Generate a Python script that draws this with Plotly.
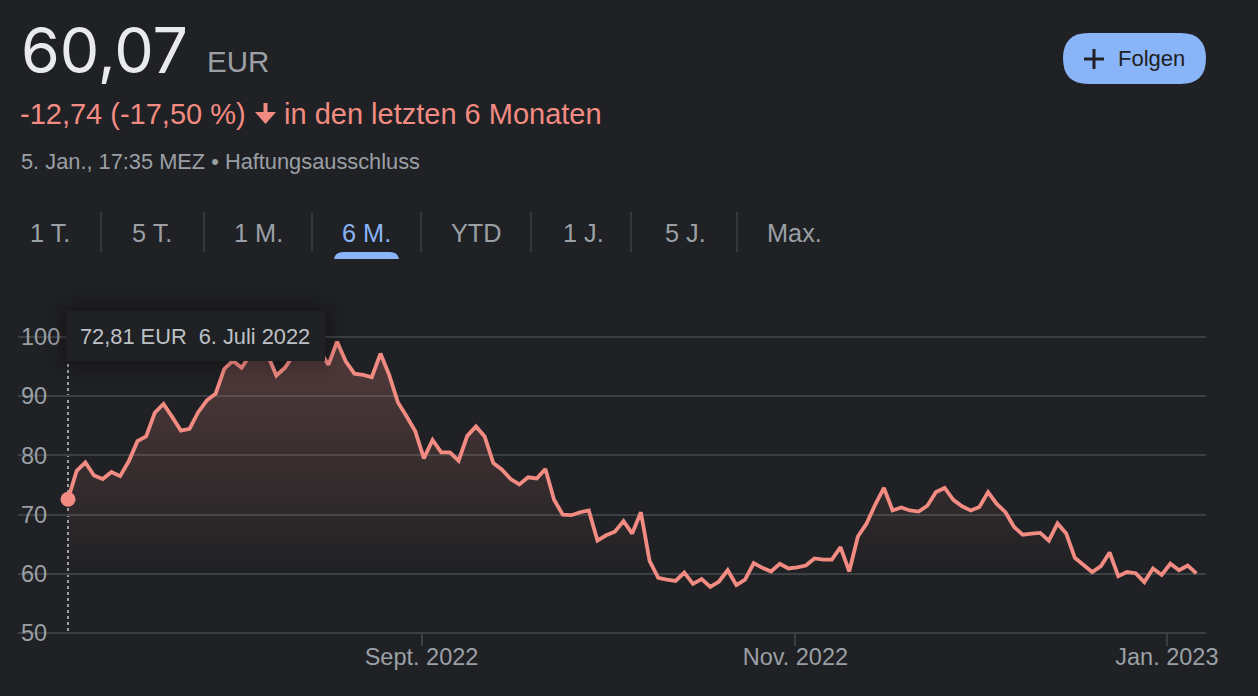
import plotly.graph_objects as go

W, H = 1258, 696
BG = "#202124"
RED = "#f28b82"
GREY = "#9aa0a6"
GRID = "#3c4043"
BLUE = "#8ab4f8"

# Closing prices, one per trading session from 6 July 2022 to 5 January 2023
prices = [
    72.6, 77.4, 78.8, 76.6, 76.0, 77.2, 76.5, 79.0, 82.4, 83.2,
    87.2, 88.7, 86.5, 84.2, 84.5, 87.3, 89.3, 90.4, 94.6, 96.0,
    94.8, 97.0, 99.0, 97.0, 93.5, 94.8, 97.0, 97.5, 98.5, 97.7,
    95.3, 99.2, 95.9, 93.8, 93.6, 93.2, 97.2, 93.6, 89.0, 86.6,
    84.1, 79.5, 82.6, 80.5, 80.5, 79.1, 83.3, 84.9, 83.2, 78.7,
    77.6, 76.0, 75.1, 76.3, 76.1, 77.7, 72.5, 70.0, 69.9, 70.4,
    70.7, 65.6, 66.5, 67.1, 68.9, 66.8, 70.4, 62.2, 59.3, 59.0,
    58.8, 60.2, 58.3, 59.1, 57.8, 58.7, 60.6, 58.1, 59.0, 61.8,
    61.0, 60.4, 61.7, 60.9, 61.1, 61.4, 62.6, 62.4, 62.4, 64.5,
    60.4, 66.3, 68.5, 71.7, 74.5, 70.7, 71.2, 70.7, 70.5, 71.5,
    73.8, 74.5, 72.5, 71.4, 70.7, 71.3, 73.8, 71.8, 70.4, 67.9,
    66.6, 66.8, 66.9, 65.6, 68.5, 66.8, 62.7, 61.5, 60.3, 61.3,
    63.6, 59.6, 60.3, 60.1, 58.6, 60.9, 59.8, 61.7, 60.6, 61.4,
    60.07,
]
sessions = list(range(len(prices)))

x_tick_positions = [40.73, 83.8, 126.6]
x_tick_labels = ["Sept. 2022", "Nov. 2022", "Jan. 2023"]
y_ticks = [50, 60, 70, 80, 90, 100]

tab_labels = ["1 T.", "5 T.", "1 M.", "6 M.", "YTD", "1 J.", "5 J.", "Max."]
tab_centres = [50, 152, 258, 366, 476, 583, 685, 794]
tab_separators = [101, 204, 312, 421, 531, 631, 737]


def px(x):
    return x / W


def py(y):
    return 1 - y / H


def text(s, x, y, size, color, anchor="left", font="Liberation Sans"):
    return dict(
        text=s, x=px(x), y=py(y), xref="paper", yref="paper", showarrow=False,
        xanchor=anchor, yanchor="middle", align=anchor,
        font=dict(size=size, color=color, family=font),
        borderpad=0, borderwidth=0,
    )


def rrect(x0, y0, x1, y1, r):
    p = lambda a, b: f"{px(a):.5f},{py(b):.5f}"
    return (
        f"M{p(x0 + r, y0)} L{p(x1 - r, y0)} Q{p(x1, y0)} {p(x1, y0 + r)} "
        f"L{p(x1, y1 - r)} Q{p(x1, y1)} {p(x1 - r, y1)} L{p(x0 + r, y1)} "
        f"Q{p(x0, y1)} {p(x0, y1 - r)} L{p(x0, y0 + r)} Q{p(x0, y0)} {p(x0 + r, y0)} Z"
    )


def path(d, fill, layer="above"):
    return dict(type="path", xref="paper", yref="paper", path=d, fillcolor=fill,
                line=dict(width=0), layer=layer)


def seg(x0, y0, x1, y1, color, width):
    return dict(type="line", xref="paper", yref="paper", x0=px(x0), y0=py(y0),
                x1=px(x1), y1=py(y1), line=dict(color=color, width=width), layer="above")


def rect(x0, y0, x1, y1, fill, layer):
    return dict(type="rect", xref="paper", yref="paper", x0=px(x0), y0=py(y0),
                x1=px(x1), y1=py(y1), fillcolor=fill, line=dict(width=0), layer=layer)


fig = go.Figure()
fig.add_trace(go.Scatter(
    x=sessions, y=prices, mode="lines",
    line=dict(color=RED, width=3.8, simplify=False),
    fill="tozeroy",
    fillgradient=dict(
        type="vertical", start=60, stop=100,
        colorscale=[[0, "rgba(242,139,130,0)"], [1, "rgba(242,139,130,0.25)"]],
    ),
    hoverinfo="skip", showlegend=False,
))
fig.add_trace(go.Scatter(
    x=sessions[:1], y=prices[:1], mode="markers",
    marker=dict(color=RED, size=15, line=dict(width=0)),
    hoverinfo="skip", showlegend=False,
))

# Axis mapping: session i sits at pixel 68 + 8.68 i, price 100 at pixel 337 and 50 at 633
L, R, T, B = 18, 1206, 290, 655
fig.update_xaxes(
    domain=[px(L), px(R)], range=[(L - 68) / 8.68, (R - 68) / 8.68],
    anchor="free", position=py(633),
    tickmode="array", tickvals=x_tick_positions, ticktext=x_tick_labels,
    ticks="outside", ticklen=12, tickwidth=1.5, tickcolor=GRID, ticklabelstandoff=-9,
    tickfont=dict(size=23.5, color=GREY, family="Liberation Sans"),
    showgrid=False, zeroline=False, showline=False, fixedrange=True,
    automargin=False,
)
fig.update_yaxes(
    domain=[py(B), py(T)], range=[50 - (B - 633) / 5.92, 50 + (633 - T) / 5.92],
    tickmode="array", tickvals=y_ticks, ticktext=[str(v) for v in y_ticks],
    ticklabelposition="inside", ticks="",
    tickfont=dict(size=23.5, color=GREY, family="Liberation Sans"),
    showgrid=True, gridcolor=GRID, gridwidth=2, zeroline=False, showline=False,
    fixedrange=True, automargin=False,
)

shapes = [
    # clear the grid behind the axis labels
    rect(L - 2, 325, 48, 655, BG, "between"),
    rect(L - 2, 325, 61, 350, BG, "between"),
    # hover guide, kept under the marker
    dict(type="line", xref="x", yref="paper", x0=sessions[0], x1=sessions[0],
         y0=py(631), y1=py(361), line=dict(color=GREY, width=2, dash="3px,3px"),
         layer="between"),
]
# tooltip shadow and box
for grow, alpha in [(24, 0.01), (20, 0.015), (16, 0.02), (12, 0.025), (8, 0.035), (4, 0.05)]:
    shapes.append(path(rrect(66 - grow, 311 - grow, 325 + grow, 361 + grow, grow + 14),
                       f"rgba(0,0,0,{alpha})"))
shapes.append(rect(66, 311, 325, 361, BG, "above"))

# tabs
for sx in tab_separators:
    shapes.append(seg(sx, 212, sx, 252, GRID, 1.5))
shapes.append(path(
    f"M{px(334):.5f},{py(259):.5f} Q{px(335):.5f},{py(252):.5f} {px(344):.5f},{py(252):.5f} "
    f"L{px(389):.5f},{py(252):.5f} Q{px(398):.5f},{py(252):.5f} {px(399):.5f},{py(259):.5f} Z",
    BLUE))

# follow button
shapes.append(path(rrect(1063, 33, 1206, 84, 25.5), BLUE))
shapes.append(seg(1084, 59, 1104, 59, BG, 3))
shapes.append(seg(1094, 49, 1094, 69, BG, 3))

# down arrow
shapes.append(seg(265.5, 103, 265.5, 118, RED, 4))
arrow = [(255, 112), (265.5, 124), (276, 112)]
shapes.append(path("M" + " L".join(f"{px(a):.5f},{py(b):.5f}" for a, b in arrow) + " Z", RED))

annotations = [
    text("60,07", 21, 50, 62.7, "#e8eaed", font="Inter"),
    text("EUR", 207, 62, 29.5, GREY),
    text("-12,74 (-17,50 %)", 20, 114, 29, RED),
    text("in den letzten 6 Monaten", 284, 114, 29, RED),
    text("5. Jan., 17:35 MEZ • Haftungsausschluss", 21, 162, 21.8, GREY),
    text("Folgen", 1118, 59, 22, BG),
    text("72,81 EUR&nbsp;&nbsp;6. Juli 2022", 80, 336, 21.8, "#bdc1c6"),
]
for label, cx in zip(tab_labels, tab_centres):
    annotations.append(text(label, cx, 233, 25.3, BLUE if label == "6 M." else GREY, "center"))

fig.update_layout(
    width=W, height=H, autosize=False,
    margin=dict(l=0, r=0, t=0, b=0, pad=0, autoexpand=False),
    paper_bgcolor=BG, plot_bgcolor=BG,
    hovermode=False, showlegend=False,
    shapes=shapes, annotations=annotations,
)
fig.write_html(
    "out.html",
    config=dict(displayModeBar=False),
    post_script=(
        "document.documentElement.style.margin='0';"
        "document.documentElement.style.overflow='hidden';"
        "document.body.style.margin='0';"
        "document.body.style.overflow='hidden';"
        f"document.body.style.background='{BG}';"
    ),
)
